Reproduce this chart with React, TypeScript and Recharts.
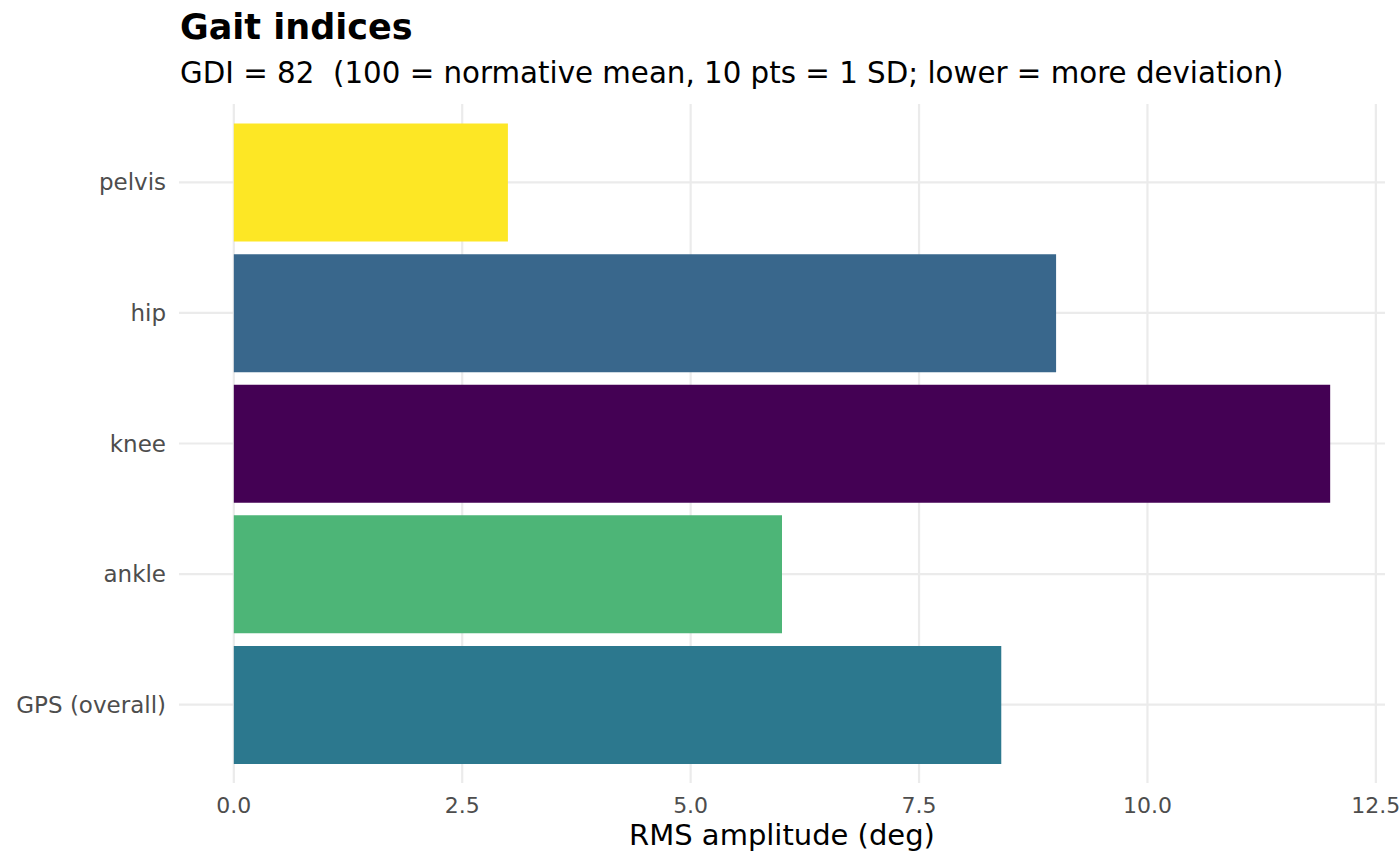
import React from 'react';
import { BarChart, Bar, XAxis, YAxis, CartesianGrid, Cell, Label } from 'recharts';

const joints = ['pelvis', 'hip', 'knee', 'ankle', 'GPS (overall)'];
const rmsValues = [3.0, 9.0, 12.0, 6.0, 8.4];
const barColors = ['#FDE725', '#39678C', '#440154', '#4DB577', '#2C788E'];
const xTicks = [0, 2.5, 5, 7.5, 10, 12.5];

const data = joints.map((name, i) => ({ name, value: rmsValues[i], color: barColors[i] }));

const FONT = '"DejaVu Sans", sans-serif';

export default function App() {
  return (
    <div style={{ position: 'absolute', left: 0, top: 0, width: 1400, height: 866, background: '#fff', fontFamily: FONT }}>
      {/* title + subtitle, left aligned with the panel */}
      <div style={{ position: 'absolute', left: 180, top: 10, fontSize: 35, lineHeight: '35px', fontWeight: 'bold', color: '#000', whiteSpace: 'nowrap' }}>
        Gait indices
      </div>
      <div style={{ position: 'absolute', left: 180, top: 59, fontSize: 29.3, lineHeight: '29.3px', color: '#000', whiteSpace: 'pre' }}>
        {'GDI = 82  (100 = normative mean, 10 pts = 1 SD; lower = more deviation)'}
      </div>

      <BarChart
        width={1400}
        height={866}
        data={data}
        layout="vertical"
        margin={{ top: 104, right: 15, bottom: 0, left: 9 }}
        barCategoryGap="5%"
        style={{ position: 'absolute', left: 0, top: 0 }}
      >
        <CartesianGrid stroke="#EBEBEB" strokeWidth={2.2} syncWithTicks />
        <XAxis
          type="number"
          domain={[-0.6, 12.6]}
          ticks={xTicks}
          tickFormatter={(v: number) => v.toFixed(1)}
          axisLine={false}
          tickLine={false}
          tickSize={0}
          tickMargin={14}
          height={83}
          interval={0}
          tick={{ fill: '#4D4D4D', fontSize: 22, fontFamily: FONT }}
          allowDataOverflow
        >
          <Label
            value="RMS amplitude (deg)"
            position="insideBottom"
            offset={21}
            style={{ fill: '#000', fontSize: 29, fontFamily: FONT }}
          />
        </XAxis>
        <YAxis
          type="category"
          dataKey="name"
          width={170}
          axisLine={false}
          tickLine={false}
          tickSize={0}
          tickMargin={13}
          interval={0}
          padding={{ top: 13, bottom: 13 }}
          tick={{ fill: '#4D4D4D', fontSize: 23, fontFamily: FONT }}
        />
        <Bar dataKey="value" isAnimationActive={false}>
          {data.map((d) => (
            <Cell key={d.name} fill={d.color} />
          ))}
        </Bar>
      </BarChart>
    </div>
  );
}
